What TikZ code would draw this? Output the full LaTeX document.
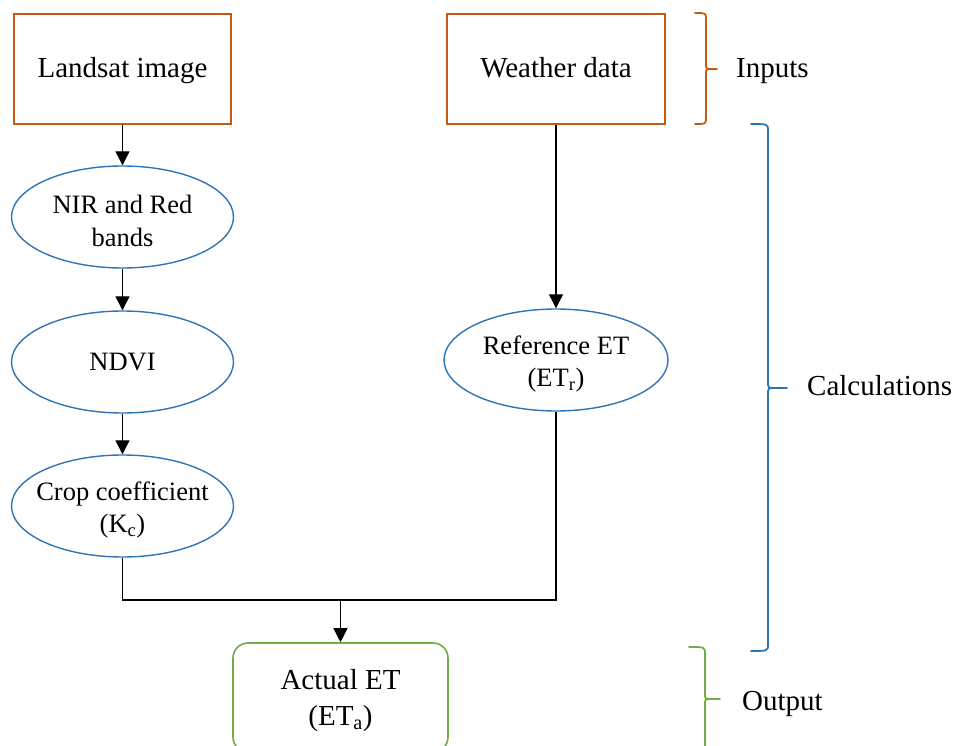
\documentclass[tikz,border=0pt]{standalone}
\usepackage{fontspec}
\setmainfont{Liberation Serif}
\usetikzlibrary{shapes.geometric,arrows.meta}
\definecolor{wordorange}{RGB}{197,90,17}
\definecolor{wordblue}{RGB}{46,117,182}
\definecolor{wordgreen}{RGB}{112,173,71}

\begin{document}
\begin{tikzpicture}[x=1pt,y=-1pt,
  bigfont/.style={font=\fontsize{29}{36}\selectfont},
  smallfont/.style={font=\fontsize{26.5}{32.5}\selectfont},
  inbox/.style={draw=wordorange, line width=1.6pt, minimum width=217pt,
    minimum height=110pt, inner sep=0pt, text height=20pt, text depth=2pt, bigfont},
  calcell/.style={draw=wordblue, ellipse, line width=1.4pt, minimum width=222pt,
    minimum height=102pt, inner sep=0pt},
  inlabel/.style={align=center, smallfont, inner sep=0pt},
  twoline/.style={inlabel, yshift=-4pt},
  outbox/.style={draw=wordgreen, line width=1.6pt, rounded corners=15pt,
    minimum width=215pt, minimum height=109pt, inner sep=0pt, align=center, bigfont},
  tag/.style={anchor=base west, inner sep=0pt, bigfont},
  flow/.style={line width=1.2pt, black},
  arr/.style={flow, -{Triangle[width=14pt,length=14pt]}},
  brace/.style={line width=1.8pt, line cap=round}
]
\useasboundingbox (0,0) rectangle (954,746);

% inputs
\node[inbox] (landsat) at (122.5,69) {Landsat image};
\node[inbox, minimum width=218pt] (weather) at (556,69) {Weather data};

% calculations
\node[calcell, label={[twoline]center:{NIR and Red\\bands}}] (nir) at (122.5,217) {};
\node[calcell, label={[inlabel]center:NDVI}] (ndvi) at (122.5,362) {};
\node[calcell, label={[twoline]center:{Crop coefficient\\(K\textsubscript{c})}}] (crop) at (122.5,506) {};
\node[calcell, minimum width=224pt, label={[twoline]center:{Reference ET\\(ET\textsubscript{r})}}] (ref) at (556,360) {};

% output
\node[outbox] (actual) at (340.5,697.5) {};
\node[align=center, bigfont, inner sep=0pt, yshift=-3pt] (actualtext) at (actual.center) {Actual ET\\(ET\textsubscript{a})};

% connectors
\draw[arr] (landsat.south) -- (nir.north);
\draw[arr] (nir.south) -- (ndvi.north);
\draw[arr] (ndvi.south) -- (crop.north);
\draw[arr] (weather.south) -- (ref.north);
\coordinate (join) at (340.5,600);
\draw[flow] (crop.south) -- (crop.south |- join) -- (ref.south |- join) -- (ref.south);
\draw[arr] (join) -- (actual.north);

% group braces
\draw[brace, wordorange] (695,13) .. controls (706,13) .. (706,19) -- (706,63)
  .. controls (706,69) .. (711,69) -- (717,69)
  (711,69) .. controls (706,69) .. (706,75) -- (706,118)
  .. controls (706,124) .. (695,124);
\draw[brace, wordblue] (751,124) .. controls (768,124) .. (768,131) -- (768,381)
  .. controls (768,388) .. (774,388) -- (787,388)
  (774,388) .. controls (768,388) .. (768,395) -- (768,644)
  .. controls (768,651) .. (751,651);
\draw[brace, wordgreen] (689,647) .. controls (705,647) .. (705,654) -- (705,693)
  .. controls (705,699) .. (711,699) -- (720,699)
  (711,699) .. controls (705,699) .. (705,705) -- (705,760);

\node[tag] (inputs) at (736,78) {Inputs};
\node[tag] (calcs) at (807,395) {Calculations};
\node[tag] (output) at (742,710) {Output};
\end{tikzpicture}
\end{document}
